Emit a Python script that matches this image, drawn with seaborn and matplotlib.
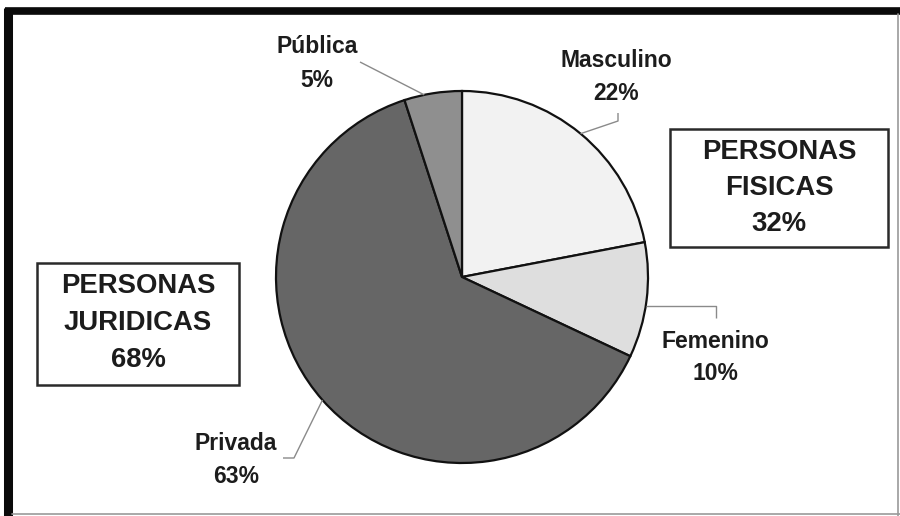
import numpy as np
import matplotlib
matplotlib.use("Agg")
import matplotlib.pyplot as plt
from matplotlib.patches import Rectangle
import seaborn as sns

# Composition of holders: natural persons (male / female) and legal entities (private / public)
categories = ["Masculino", "Femenino", "Privada", "Pública"]
shares = [22, 10, 63, 5]
slice_colors = ["#f2f2f2", "#dedede", "#666666", "#8f8f8f"]
group_labels = [["PERSONAS", "FISICAS", "32%"], ["PERSONAS", "JURIDICAS", "68%"]]

sns.set_theme(style="white")
plt.rcParams["font.family"] = ["Liberation Sans", "DejaVu Sans"]

W, H = 900, 516
fig = plt.figure(figsize=(W / 100, H / 100), dpi=100)
ax = fig.add_axes([0, 0, 1, 1])


def Y(py):
    # pixel row (from top) to data y
    return H - py


cx, cy, r = 462, Y(277), 186
start = 90
wedges, _ = ax.pie(
    shares, colors=slice_colors, startangle=start, counterclock=False,
    center=(cx, cy), radius=r, frame=True,
    wedgeprops=dict(edgecolor="#111111", linewidth=1.6),
)
ax.set_xlim(0, W)
ax.set_ylim(0, H)
ax.set_aspect("equal")
ax.axis("off")

# angular bounds of each slice (clockwise from the top)
bounds = start - 360 * np.cumsum([0] + shares) / sum(shares)


def edge(frac_in_slice, i):
    a = np.deg2rad(bounds[i] + (bounds[i + 1] - bounds[i]) * frac_in_slice)
    return cx + r * np.cos(a), cy + r * np.sin(a)


lead_kw = dict(color="#8a8a8a", lw=1.0, solid_capstyle="butt")

# Masculino: short drop from label, then diagonal to edge
ex, ey = edge(0.5, 0)
ax.plot([618, 618, ex], [Y(113), Y(121), ey], **lead_kw)
# Femenino: horizontal from edge, then drop to label
ex, ey = edge(0.55, 1)
ax.plot([ex, 716, 716], [ey, ey, Y(318)], **lead_kw)
# Privada: diagonal from edge, then short horizontal to label
ex, ey = edge(0.5, 2)
ax.plot([ex, 294, 283], [ey, Y(458), Y(458)], **lead_kw)
# Pública: straight line to label
ex, ey = edge(0.35, 3)
ax.plot([ex, 360], [ey, Y(62)], **lead_kw)

lab_kw = dict(ha="center", va="baseline", fontsize=16.5, fontweight="bold", color="#1c1c1c")
label_pos = {
    "Masculino": (616, 67, 100),
    "Femenino": (715, 348, 380),
    "Privada": (236, 450, 483),
    "Pública": (317, 53, 87),
}
for name, val in zip(categories, shares):
    x, y1, y2 = label_pos[name]
    ax.text(x, Y(y1), name, **lab_kw)
    ax.text(x, Y(y2), f"{val}%", **lab_kw)

# group boxes
box_kw = dict(fill=False, edgecolor="#2a2a2a", linewidth=1.8)
grp_kw = dict(ha="center", va="baseline", fontsize=19.8, fontweight="bold", color="#1c1c1c")
boxes = [
    ((670, 129, 888, 247), (159, 195, 231)),
    ((37, 263, 239, 385), (293, 330, 367)),
]
for ((x0, y0, x1, y1), rows), lines in zip(boxes, group_labels):
    ax.add_patch(Rectangle((x0, Y(y1)), x1 - x0, y1 - y0, **box_kw))
    xc = (x0 + x1) / 2
    for ry, txt in zip(rows, lines):
        ax.text(xc, Y(ry), txt, **grp_kw)

# outer frame: heavy left/top, thin right/bottom
ax.plot([8, 8], [Y(8), Y(516)], color="#0a0a0a", lw=6.5, solid_capstyle="butt")
ax.plot([5, 900], [Y(11), Y(11)], color="#0a0a0a", lw=5.5, solid_capstyle="butt")
ax.plot([898, 898], [Y(14), Y(516)], color="#9a9a9a", lw=1.2)
ax.plot([12, 900], [Y(513.5), Y(513.5)], color="#9a9a9a", lw=1.2)

fig.savefig("out.png", dpi=100, facecolor="white")
